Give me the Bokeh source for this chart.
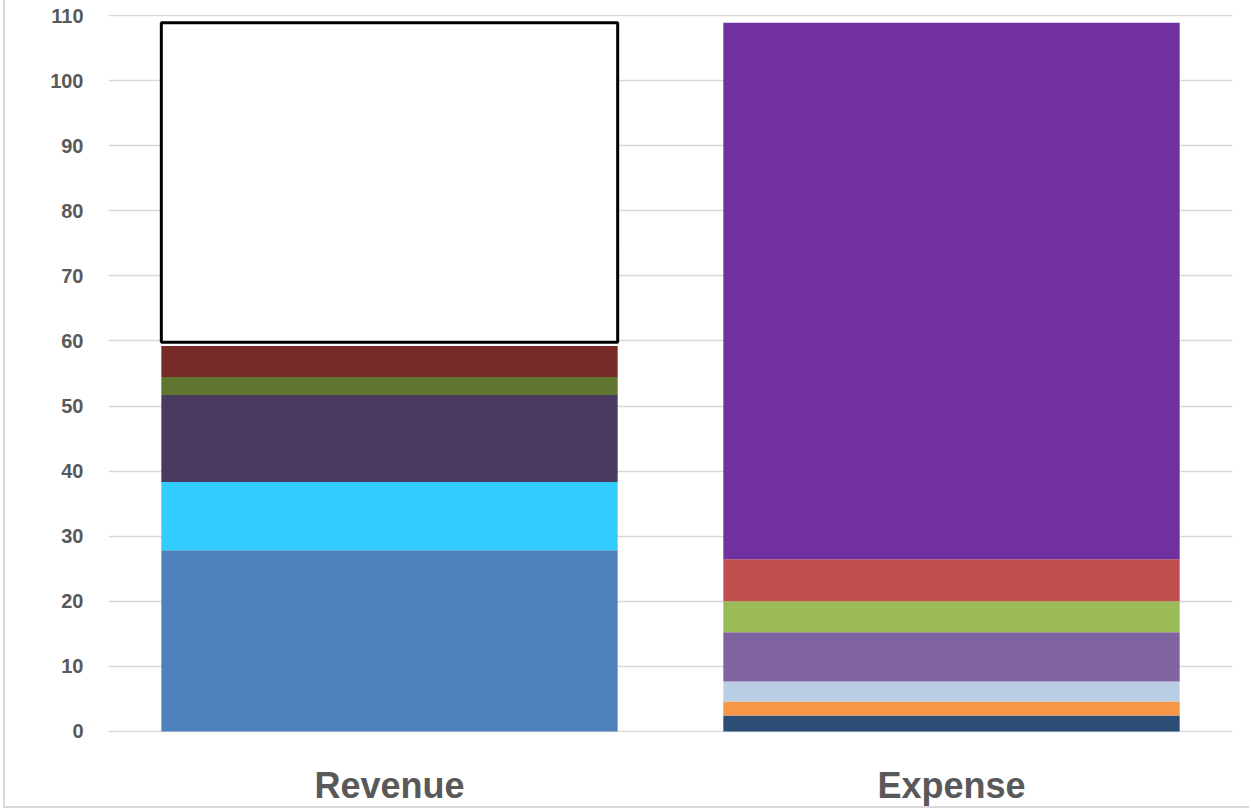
import numpy as np
from bokeh.plotting import figure
from bokeh.models import ColumnDataSource, FactorRange, Range1d, FixedTicker
from bokeh.embed import file_html
from bokeh.resources import INLINE

# ---- data ----
categories = ["Revenue", "Expense"]
revenue_values = [27.85, 10.46, 13.38, 2.77, 4.77, 0.57, 49.1]
expense_values = [2.46, 2.16, 3.07, 7.54, 4.77, 6.46, 82.44]
y_ticks = [0, 10, 20, 30, 40, 50, 60, 70, 80, 90, 100, 110]

# ---- styles ----
revenue_colors = ["#4F81BD", "#33CCFF", "#4B3A60", "#5F7530", "#772C2A", "#FFFFFF", "#FFFFFF"]
revenue_lines = [None, None, None, None, None, None, "black"]
expense_colors = ["#2C4D75", "#F79646", "#B9CDE5", "#8064A2", "#9BBB59", "#C0504D", "#7030A0"]
expense_lines = [None] * 7

def segs(cat, vals, colors, lines):
    tops = np.cumsum(vals)
    bottoms = tops - np.array(vals)
    return dict(x=[cat] * len(vals), bottom=list(bottoms), top=list(tops),
                color=colors, line=[l if l else "rgba(0,0,0,0)" for l in lines])

d1 = segs(categories[0], revenue_values, revenue_colors, revenue_lines)
d2 = segs(categories[1], expense_values, expense_colors, expense_lines)
data = {k: d1[k] + d2[k] for k in d1}
src = ColumnDataSource(data)

p = figure(width=1246, height=808, x_range=FactorRange(*categories, range_padding=0),
           y_range=Range1d(-0.16, 110.16), output_backend="svg", toolbar_location=None,
           min_border_left=103, min_border_right=19, min_border_top=14, min_border_bottom=76)
p.styles = {"margin-left": "3px", "border-left": "2px solid #D9D9D9",
            "border-bottom": "2px solid #D9D9D9"}
p.outline_line_color = None
p.background_fill_color = "white"
p.border_fill_color = "white"

p.vbar(x="x", bottom="bottom", top="top", width=0.812, fill_color="color",
       line_color="line", line_width=3, source=src)

p.xgrid.grid_line_color = None
p.ygrid.grid_line_color = "#D9D9D9"
p.ygrid.grid_line_width = 1.5
p.yaxis.ticker = FixedTicker(ticks=y_ticks)
p.yaxis.axis_line_color = None
p.yaxis.major_tick_line_color = None
p.yaxis.minor_tick_line_color = None
p.yaxis.major_label_standoff = 19
p.yaxis.major_label_text_font = "Liberation Sans"
p.yaxis.major_label_text_font_style = "bold"
p.yaxis.major_label_text_font_size = "20px"
p.yaxis.major_label_text_color = "#595959"

p.xaxis.axis_line_color = None
p.xaxis.major_tick_line_color = None
p.xaxis.major_label_standoff = 26
p.xaxis.major_label_text_font = "Liberation Sans"
p.xaxis.major_label_text_font_style = "bold"
p.xaxis.major_label_text_font_size = "36px"
p.xaxis.major_label_text_color = "#595959"

open("out.html", "w").write(file_html(p, INLINE))
